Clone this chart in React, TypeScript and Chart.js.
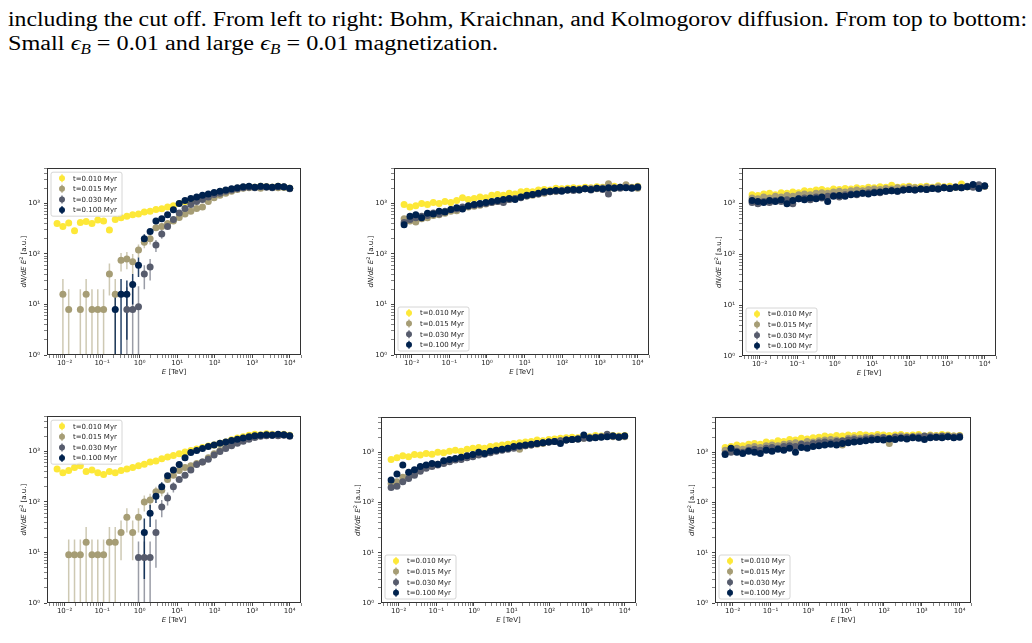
import React, { useEffect, useLayoutEffect, useRef } from "react";
import { Chart, registerables } from "chart.js";
Chart.register(...registerables);

// ---------- data ----------
const E_TEV = [0.00631, 0.00902, 0.01288, 0.01841, 0.0263, 0.03758, 0.0537, 0.07674, 0.1096, 0.1567, 0.2239, 0.3199, 0.4571, 0.6531, 0.9333, 1.334, 1.905, 2.723, 3.89, 5.559, 7.943, 11.35, 16.22, 23.17, 33.11, 47.32, 67.61, 96.61, 138.0, 197.2, 281.8, 402.7, 575.4, 822.2, 1175, 1679, 2399, 3428, 4898, 6998, 10000];

const TIME_LABELS = ["t=0.010 Myr", "t=0.015 Myr", "t=0.030 Myr", "t=0.100 Myr"];
const TIME_COLORS = ["#fde838", "#a69d75", "#575c6d", "#00224e"];
const ERR_COLORS = ["rgba(253,232,56,0.6)", "rgba(166,157,117,0.55)", "rgba(87,92,109,0.6)", "rgba(0,34,78,0.85)"];

const X_MAJOR_VALUES = [1e-2, 1e-1, 1, 10, 100, 1000, 10000];
const X_MAJOR_LABELS = ["10\u207B\u00B2", "10\u207B\u00B9", "10\u2070", "10\u00B9", "10\u00B2", "10\u00B3", "10\u2074"];
const Y_MAJOR_VALUES = [1, 10, 100, 1000];
const Y_MAJOR_LABELS = ["10\u2070", "10\u00B9", "10\u00B2", "10\u00B3"];
const X_MIN = 0.0034, X_MAX = 20000, Y_MIN = 1, Y_MAX = 5000;

// Bohm, small magnetization
const bohmSmall_t010 = [400, 350, 410, 290, 420, 440, 400, 470, 450, 300, 480, 520, 560, 600, 620, 680, 700, 760, 790, 850, 900, 1000, 1080, 1150, 1250, 1350, 1450, 1600, 1700, 1800, 1900, 2000, 2100, 2150, 2100, 2200, 2150, 2100, 2200, 2100, 2000];
const bohmSmall_t015 = [null, 16, 8, null, 8, 16, 8, 8, 8, 40, 16, 75, 80, 70, 120, 170, 200, 330, 350, 400, 450, 530, 620, 700, 800, 850, 1100, 1300, 1450, 1600, 1750, 1900, 2000, 2050, 2100, 2000, 2150, 2100, 2050, 2150, 2000];
const bohmSmall_t030 = [null, null, null, null, null, null, null, null, null, null, null, null, 8, 8, 9, 40, 55, 150, 250, 350, 480, 650, 800, 950, 1100, 1200, 1350, 1500, 1600, 1750, 1850, 1950, 2050, 2100, 2050, 2150, 2100, 2050, 2150, 2100, 1950];
const bohmSmall_t100 = [null, null, null, null, null, null, null, null, null, null, 8, 16, 16, 25, 60, 200, 280, 450, 500, 600, 750, 1000, 1150, 1250, 1350, 1450, 1550, 1650, 1750, 1850, 1950, 2050, 2150, 2200, 2100, 2200, 2150, 2100, 2200, 2150, 2000];
const bohmSmall_t015_err = [null, 16, 12, null, 12, 16, 12, 12, 12, 25, 16, 30, 30, 30, 35, 40, 45, null, null, null, null, null, null, null, null, null, null, null, null, null, null, null, null, null, null, null, null, null, null, null, null];
const bohmSmall_t030_err = [null, null, null, null, null, null, null, null, null, null, null, null, 14, 14, 14, 20, 25, 40, 50, null, null, null, null, null, null, null, null, null, null, null, null, null, null, null, null, null, null, null, null, null, null];
const bohmSmall_t100_err = [null, null, null, null, null, null, null, null, null, null, 8, 16, 14, 15, 25, 45, null, null, null, null, null, null, null, null, null, null, null, null, null, null, null, null, null, null, null, null, null, null, null, null, null];

// Kraichnan, small magnetization
const kraSmall_t010 = [950, 850, 900, 1000, 950, 1050, 1000, 1100, 1050, 1150, 1300, 1200, 1250, 1350, 1300, 1450, 1500, 1450, 1600, 1550, 1700, 1750, 1700, 1850, 1900, 1850, 2000, 1950, 2000, 2050, 2000, 2100, 2050, 2150, 2100, 2050, 2200, 2100, 2150, 2100, 2200];
const kraSmall_t015 = [500, 450, 430, 500, 520, 580, 600, 640, 700, 720, 800, 850, 880, 920, 980, 1050, 1100, 1150, 1200, 1250, 1350, 1400, 1450, 1550, 1600, 1700, 1750, 1800, 1850, 1900, 1850, 1950, 2000, 1950, 2050, 2450, 2000, 2100, 2350, 2050, 2000];
const kraSmall_t030 = [420, 480, 520, 560, 580, 650, 620, 700, 750, 780, 850, 880, 920, 950, 1000, 1050, 1100, 1050, 1200, 1250, 1300, 1400, 1500, 1550, 1650, 1700, 1750, 1800, 1850, 1800, 1900, 1950, 1850, 2000, 1900, 1550, 2050, 2000, 2100, 2050, 2150];
const kraSmall_t100 = [380, 560, 600, 520, 640, 620, 700, 680, 760, 820, 780, 900, 950, 1000, 1050, 1100, 1150, 1200, 1250, 1200, 1350, 1450, 1500, 1600, 1700, 1750, 1800, 1750, 1850, 1900, 1850, 1950, 1900, 2000, 1950, 2050, 2000, 2100, 2050, 2000, 2100];

// Kolmogorov, small magnetization
const kolSmall_t010 = [1500, 1450, 1550, 1600, 1500, 1650, 1600, 1700, 1650, 1800, 1750, 1850, 1900, 1800, 1950, 1900, 2000, 1950, 2050, 2000, 2100, 2050, 2150, 2100, 2300, 2100, 2150, 2200, 2100, 2150, 2200, 2100, 2250, 2150, 2200, 2100, 2450, 2150, 2200, 2250, 2200];
const kolSmall_t015 = [1300, 1250, 1350, 1300, 1400, 1350, 1450, 1400, 1500, 1550, 1500, 1600, 1650, 1600, 1700, 1750, 1700, 1800, 1850, 1800, 1900, 1950, 1900, 2000, 1950, 2050, 2000, 2100, 2050, 2000, 2100, 2050, 2150, 2100, 2050, 2150, 2100, 2200, 2150, 2100, 2200];
const kolSmall_t030 = [1050, 1000, 1100, 1050, 1150, 1100, 1200, 1000, 1250, 1300, 1200, 1350, 1300, 1400, 1450, 1350, 1500, 1550, 1500, 1600, 1650, 1700, 1650, 1750, 1800, 1750, 1850, 1900, 1850, 1950, 1900, 2000, 1950, 2050, 2000, 2100, 2050, 2150, 2100, 2350, 2200];
const kolSmall_t100 = [1150, 1100, 1050, 1150, 1100, 1200, 1000, 1150, 1250, 1200, 1300, 1250, 1350, 1100, 1400, 1450, 1400, 1500, 1550, 1600, 1550, 1650, 1700, 1750, 1800, 1750, 1850, 1900, 1850, 1950, 1900, 2000, 1950, 2050, 2000, 2100, 2050, 2150, 2400, 2000, 2250];

// Bohm, large magnetization
const bohmLarge_t010 = [450, 380, 420, 480, 520, 400, 430, 380, 350, 400, 380, 420, 450, 480, 520, 560, 620, 650, 720, 780, 830, 900, 980, 1050, 1120, 1200, 1280, 1350, 1450, 1550, 1700, 1850, 1950, 2100, 2200, 2150, 2250, 2200, 2150, 2200, 2100];
const bohmLarge_t015 = [null, null, 9, 9, 9, 16, 9, 9, 9, 16, 16, 25, 50, 25, 50, 100, 110, 160, 170, 280, 340, 420, 480, 520, 580, 620, 750, 900, 1050, 1200, 1350, 1500, 1650, 1800, 1950, 2050, 2100, 2150, 2100, 2150, 2050];
const bohmLarge_t030 = [null, null, null, null, null, null, null, null, null, null, null, null, null, null, 8, 8, 8, 25, 80, 120, 200, 280, 340, 430, 550, 620, 700, 850, 1000, 1150, 1300, 1450, 1600, 1750, 1900, 2000, 2050, 2100, 2050, 2100, 2000];
const bohmLarge_t100 = [null, null, null, null, null, null, null, null, null, null, null, null, null, null, null, 25, 60, 130, 200, 330, 430, 550, 750, 950, 1050, 1150, 1250, 1350, 1450, 1550, 1650, 1750, 1850, 1950, 2050, 2100, 2150, 2100, 2200, 2150, 2050];
const bohmLarge_t015_err = [null, null, 9, 9, 9, 16, 9, 9, 9, 16, 16, 18, 25, 18, 25, 35, 35, 40, 40, null, null, null, null, null, null, null, null, null, null, null, null, null, null, null, null, null, null, null, null, null, null];
const bohmLarge_t030_err = [null, null, null, null, null, null, null, null, null, null, null, null, null, null, 8.5, 8.5, 8.5, 20, 30, 35, 45, null, null, null, null, null, null, null, null, null, null, null, null, null, null, null, null, null, null, null, null];
const bohmLarge_t100_err = [null, null, null, null, null, null, null, null, null, null, null, null, null, null, null, 22, 28, 35, 45, null, null, null, null, null, null, null, null, null, null, null, null, null, null, null, null, null, null, null, null, null, null];

// Kraichnan, large magnetization
const kraLarge_t010 = [720, 780, 850, 820, 900, 880, 950, 920, 1000, 980, 1050, 1100, 1050, 1150, 1200, 1250, 1200, 1300, 1350, 1400, 1450, 1500, 1550, 1600, 1650, 1750, 1700, 1800, 1850, 1900, 1950, 2000, 1950, 2100, 2050, 2150, 2100, 2200, 2150, 2100, 2150];
const kraLarge_t015 = [240, 260, 320, 340, 380, 450, 500, 540, 580, 620, 680, 720, 760, 800, 860, 900, 950, 1000, 1100, 1150, 1200, 1250, 1150, 1350, 1400, 1450, 1500, 1600, 1650, 1700, 1750, 1800, 1850, 1900, 1950, 2000, 2050, 2100, 2050, 2000, 2050];
const kraLarge_t030 = [200, 210, 260, 300, 350, 420, 480, 520, 560, 600, 650, 700, 720, 780, 820, 880, 920, 980, 1050, 1100, 1150, 1200, 1300, 1350, 1400, 1500, 1550, 1600, 1650, 1700, 1750, 1800, 1850, 1900, 1950, 2000, 2050, 2300, 2100, 2050, 2100];
const kraLarge_t100 = [280, 370, 560, 400, 450, 520, 560, 600, 580, 680, 720, 750, 800, 850, 900, 1000, 950, 1050, 1100, 1150, 1200, 1300, 1350, 1400, 1450, 1500, 1550, 1600, 1650, 1500, 1750, 1800, 1850, 2200, 1900, 1950, 2000, 2050, 2100, 2000, 2100];

// Kolmogorov, large magnetization
const kolLarge_t010 = [1250, 1300, 1400, 1350, 1450, 1500, 1450, 1600, 1550, 1700, 1650, 1800, 1750, 1900, 1850, 1950, 2000, 2100, 2050, 2150, 2100, 2200, 2150, 2250, 2200, 2150, 2250, 2200, 2150, 2200, 2250, 2150, 2200, 2250, 2100, 2200, 2150, 2250, 2200, 2100, 2150];
const kolLarge_t015 = [1100, 1150, 1200, 1150, 1250, 1300, 1250, 1350, 1400, 1350, 1450, 1500, 1550, 1500, 1650, 1600, 1700, 1750, 1800, 1750, 1400, 1900, 1950, 1900, 2000, 1950, 2050, 2000, 1500, 2050, 2100, 2050, 2000, 2100, 2050, 2150, 2100, 2050, 2150, 2100, 2050];
const kolLarge_t030 = [950, 1000, 1050, 1000, 1100, 1150, 1100, 1200, 1250, 1200, 1300, 1350, 1300, 1450, 1400, 1500, 1550, 1600, 1550, 1650, 1700, 1750, 1800, 1750, 1850, 1900, 1850, 1950, 1900, 2000, 1950, 2000, 2050, 2000, 2100, 2050, 2000, 2100, 2050, 2000, 2100];
const kolLarge_t100 = [900, 1200, 1000, 950, 1050, 1000, 950, 1100, 1050, 1150, 1100, 1200, 1000, 1250, 1200, 1300, 1350, 1400, 1450, 1400, 1500, 1550, 1600, 1650, 1700, 1750, 1800, 1750, 1850, 1800, 1900, 1850, 1950, 1900, 1800, 1950, 2000, 1950, 2050, 1950, 2000];

// ---------- layout ----------
const PANELS = [
  { key: "p1", left: 47, top: 166, width: 254, height: 189, legendAt: "upper", series: [bohmSmall_t010, bohmSmall_t015, bohmSmall_t030, bohmSmall_t100], errors: [null, bohmSmall_t015_err, bohmSmall_t030_err, bohmSmall_t100_err] },
  { key: "p2", left: 394, top: 166, width: 255, height: 189, legendAt: "lower", series: [kraSmall_t010, kraSmall_t015, kraSmall_t030, kraSmall_t100], errors: null },
  { key: "p3", left: 742, top: 166, width: 254, height: 190, legendAt: "lower", series: [kolSmall_t010, kolSmall_t015, kolSmall_t030, kolSmall_t100], errors: null },
  { key: "p4", left: 47, top: 414, width: 254, height: 189, legendAt: "upper", series: [bohmLarge_t010, bohmLarge_t015, bohmLarge_t030, bohmLarge_t100], errors: [null, bohmLarge_t015_err, bohmLarge_t030_err, bohmLarge_t100_err] },
  { key: "p5", left: 381, top: 415, width: 255, height: 188, legendAt: "lower", series: [kraLarge_t010, kraLarge_t015, kraLarge_t030, kraLarge_t100], errors: null },
  { key: "p6", left: 715, top: 415, width: 256, height: 188, legendAt: "lower", series: [kolLarge_t010, kolLarge_t015, kolLarge_t030, kolLarge_t100], errors: null },
];

const PAD_L = 44, PAD_T = 6, PAD_R = 6, PAD_B = 30;
const FONT = '"DejaVu Sans", sans-serif';

function isMajor(v: number) {
  const l = Math.log10(v);
  return Math.abs(l - Math.round(l)) < 1e-9;
}
function logTicks(min: number, max: number) {
  const out: number[] = [];
  for (let e = Math.floor(Math.log10(min)); e <= Math.ceil(Math.log10(max)); e++) {
    for (let m = 1; m <= 9; m++) {
      const v = parseFloat((m * Math.pow(10, e)).toPrecision(6));
      if (v >= min * 0.9999 && v <= max * 1.0001) out.push(v);
    }
  }
  return out;
}
function labelFor(v: number, majors: number[], labels: string[]) {
  for (let i = 0; i < majors.length; i++) {
    if (Math.abs(Math.log10(v) - Math.log10(majors[i])) < 1e-6) return labels[i];
  }
  return "";
}
const X_TICKS = logTicks(X_MIN, X_MAX);
const Y_TICKS = logTicks(Y_MIN, Y_MAX);

function drawParts(ctx: any, parts: any[], cx: number, cy: number) {
  let total = 0;
  const widths = parts.map((p) => {
    ctx.font = p.font;
    const w = ctx.measureText(p.t).width;
    total += w;
    return w;
  });
  let x = cx - total / 2;
  parts.forEach((p, i) => {
    ctx.font = p.font;
    ctx.fillText(p.t, x, cy + (p.dy || 0));
    x += widths[i];
  });
}

const decorPlugin = {
  id: "panelDecor",
  beforeDatasetsDraw(chart: any) {
    const ctx = chart.ctx;
    const ca = chart.chartArea;
    const xs = chart.scales.x, ys = chart.scales.y;
    ctx.save();
    ctx.beginPath();
    ctx.rect(ca.left, ca.top, ca.right - ca.left, ca.bottom - ca.top);
    ctx.clip();
    chart.data.datasets.forEach((ds: any, i: number) => {
      if (!ds.errs) return;
      ctx.strokeStyle = ERR_COLORS[i];
      ctx.lineWidth = 1.5;
      ds.data.forEach((p: any, j: number) => {
        const err = ds.errs[j];
        if (err == null) return;
        const px = xs.getPixelForValue(p.x);
        const top = ys.getPixelForValue(p.y + err);
        const low = p.y - err;
        const bot = low > 0 ? ys.getPixelForValue(low) : ca.bottom + 2;
        ctx.beginPath();
        ctx.moveTo(px, top);
        ctx.lineTo(px, bot);
        ctx.stroke();
      });
    });
    ctx.restore();
  },
  afterDatasetsDraw(chart: any, _args: any, opts: any) {
    const ctx = chart.ctx;
    const ca = chart.chartArea;
    ctx.save();
    ctx.strokeStyle = "#333";
    ctx.lineWidth = 1;
    ctx.strokeRect(Math.round(ca.left) + 0.5, Math.round(ca.top) + 0.5, Math.round(ca.right - ca.left) - 1, Math.round(ca.bottom - ca.top) - 1);
    const bw = 71, bh = 44;
    const bx = ca.left + 4;
    const by = opts.legendAt === "upper" ? ca.top + 4 : ca.bottom - 4 - bh;
    ctx.beginPath();
    const r = 2;
    ctx.moveTo(bx + r, by);
    ctx.lineTo(bx + bw - r, by);
    ctx.quadraticCurveTo(bx + bw, by, bx + bw, by + r);
    ctx.lineTo(bx + bw, by + bh - r);
    ctx.quadraticCurveTo(bx + bw, by + bh, bx + bw - r, by + bh);
    ctx.lineTo(bx + r, by + bh);
    ctx.quadraticCurveTo(bx, by + bh, bx, by + bh - r);
    ctx.lineTo(bx, by + r);
    ctx.quadraticCurveTo(bx, by, bx + r, by);
    ctx.closePath();
    ctx.fillStyle = "rgba(255,255,255,0.8)";
    ctx.fill();
    ctx.strokeStyle = "#cccccc";
    ctx.lineWidth = 0.8;
    ctx.stroke();
    chart.data.datasets.forEach((ds: any, i: number) => {
      const cy = by + 6 + i * 10.6;
      const mx = bx + 11;
      ctx.strokeStyle = TIME_COLORS[i];
      ctx.lineWidth = 1.2;
      ctx.beginPath();
      ctx.moveTo(mx, cy - 4);
      ctx.lineTo(mx, cy + 4);
      ctx.stroke();
      ctx.fillStyle = TIME_COLORS[i];
      ctx.beginPath();
      ctx.arc(mx, cy, 3, 0, Math.PI * 2);
      ctx.fill();
      ctx.fillStyle = "#222";
      ctx.font = "7px " + FONT;
      ctx.textBaseline = "middle";
      ctx.textAlign = "left";
      ctx.fillText(ds.label, bx + 22, cy + 0.5);
    });
    ctx.restore();
  },
  afterDraw(chart: any) {
    const ctx = chart.ctx;
    const ca = chart.chartArea;
    ctx.save();
    ctx.fillStyle = "#222";
    ctx.textBaseline = "alphabetic";
    ctx.textAlign = "left";
    drawParts(ctx, [
      { t: "E", font: "italic 7px " + FONT },
      { t: " [TeV]", font: "7px " + FONT },
    ], (ca.left + ca.right) / 2, ca.bottom + 19);
    ctx.translate(ca.left - 21, (ca.top + ca.bottom) / 2);
    ctx.rotate(-Math.PI / 2);
    drawParts(ctx, [
      { t: "dN/dE E", font: "italic 7px " + FONT },
      { t: "2", font: "5px " + FONT, dy: -3 },
      { t: " [a.u.]", font: "7px " + FONT },
    ], 0, 0);
    ctx.restore();
  },
};

function Panel({ cfg }: any) {
  const ref = useRef<HTMLCanvasElement>(null);
  const W = PAD_L + cfg.width + PAD_R;
  const H = PAD_T + cfg.height + PAD_B;
  useEffect(() => {
    const canvas = ref.current;
    if (!canvas) return;
    const datasets = cfg.series.map((vals: any[], si: number) => {
      const pts: any[] = [];
      const errs: any[] = [];
      vals.forEach((v: any, k: number) => {
        if (v == null) return;
        pts.push({ x: E_TEV[k], y: v });
        errs.push(cfg.errors && cfg.errors[si] ? cfg.errors[si][k] : null);
      });
      return {
        label: TIME_LABELS[si],
        data: pts,
        errs,
        backgroundColor: TIME_COLORS[si],
        borderColor: TIME_COLORS[si],
        pointRadius: 3.5,
        pointHoverRadius: 3.5,
        pointBorderWidth: 0,
        showLine: false,
        order: 3 - si,
      };
    });
    const tickFont = { family: FONT, size: 7 };
    const chart = new Chart(canvas, {
      type: "scatter",
      data: { datasets },
      options: {
        animation: false,
        responsive: false,
        devicePixelRatio: 1,
        events: [],
        layout: { padding: { left: 0, top: PAD_T, right: PAD_R, bottom: 0 } },
        plugins: {
          legend: { display: false },
          tooltip: { enabled: false },
          panelDecor: { legendAt: cfg.legendAt },
        },
        scales: {
          x: {
            type: "logarithmic",
            min: X_MIN,
            max: X_MAX,
            afterBuildTicks: (s: any) => { s.ticks = X_TICKS.map((v) => ({ value: v })); },
            afterFit: (s: any) => { s.height = PAD_B; },
            ticks: {
              autoSkip: false, maxRotation: 0, minRotation: 0, padding: 1,
              color: "#222", font: tickFont,
              callback: (v: any) => labelFor(Number(v), X_MAJOR_VALUES, X_MAJOR_LABELS),
            },
            grid: {
              display: true, drawOnChartArea: false, drawTicks: true, tickLength: 3,
              tickColor: "#333",
              tickWidth: (c: any) => (c.tick && isMajor(c.tick.value) ? 0.9 : 0.6),
            },
            border: { display: false },
          },
          y: {
            type: "logarithmic",
            min: Y_MIN,
            max: Y_MAX,
            afterBuildTicks: (s: any) => { s.ticks = Y_TICKS.map((v) => ({ value: v })); },
            afterFit: (s: any) => { s.width = PAD_L; },
            ticks: {
              autoSkip: false, padding: 4,
              color: "#222", font: tickFont,
              callback: (v: any) => labelFor(Number(v), Y_MAJOR_VALUES, Y_MAJOR_LABELS),
            },
            grid: {
              display: true, drawOnChartArea: false, drawTicks: true, tickLength: 3,
              tickColor: "#333",
              tickWidth: (c: any) => (c.tick && isMajor(c.tick.value) ? 0.9 : 0.6),
            },
            border: { display: false },
          },
        },
      } as any,
      plugins: [decorPlugin as any],
    });
    return () => chart.destroy();
  }, []);
  return (
    <canvas
      ref={ref}
      width={W}
      height={H}
      style={{ position: "absolute", left: cfg.left - PAD_L, top: cfg.top - PAD_T, width: W, height: H }}
    />
  );
}

const CAPTION_LINE1 = "including the cut off. From left to right: Bohm, Kraichnan, and Kolmogorov diffusion. From top to bottom:";
const LINE1_WIDTH = 1019;
const LINE2_WIDTH = 490;

function Caption() {
  const l1 = useRef<HTMLSpanElement>(null);
  const l2 = useRef<HTMLSpanElement>(null);
  useLayoutEffect(() => {
    const fit = (el: HTMLSpanElement | null, target: number) => {
      if (!el) return;
      const w = el.getBoundingClientRect().width;
      if (w > 0) el.style.transform = `scaleX(${target / w})`;
    };
    fit(l1.current, LINE1_WIDTH);
    fit(l2.current, LINE2_WIDTH);
  }, []);
  const sub = { fontSize: "0.7em", verticalAlign: "-0.3em", lineHeight: 0 } as any;
  const line = { display: "inline-block", whiteSpace: "nowrap", transformOrigin: "0 0" } as any;
  return (
    <div style={{ position: "absolute", left: 8, top: 7, width: 1200, fontFamily: '"Liberation Serif", "DejaVu Serif", serif', fontSize: 20, lineHeight: "24px", color: "#000" }}>
      <div><span ref={l1} style={line}>{CAPTION_LINE1}</span></div>
      <div>
        <span ref={l2} style={line}>
          Small <i>ϵ</i><sub style={sub}><i>B</i></sub> = 0.01 and large <i>ϵ</i><sub style={sub}><i>B</i></sub> = 0.01 magnetization.
        </span>
      </div>
    </div>
  );
}

export default function App() {
  return (
    <div style={{ position: "absolute", left: 0, top: 0, width: 1032, height: 643, background: "#fff", overflow: "hidden" }}>
      <Caption />
      {PANELS.map((p) => (
        <Panel key={p.key} cfg={p} />
      ))}
    </div>
  );
}
